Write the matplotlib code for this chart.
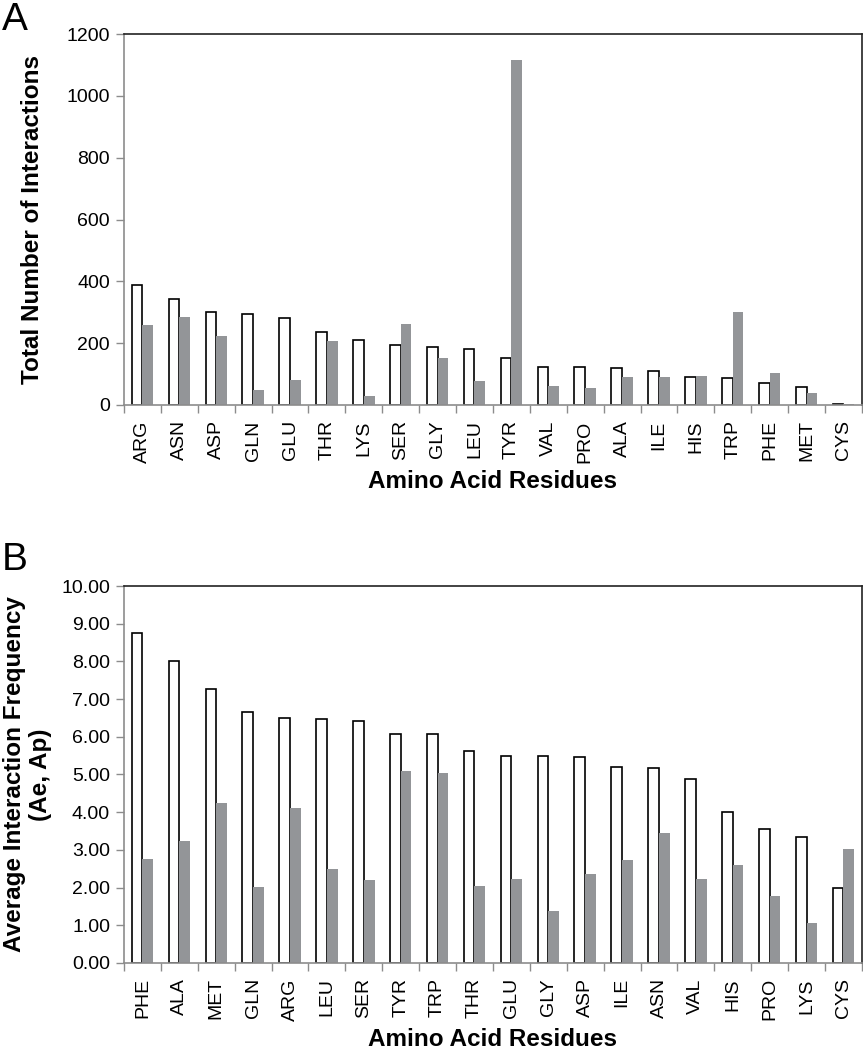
import matplotlib
matplotlib.use('Agg')
import matplotlib.pyplot as plt
import numpy as np

plt.rcParams['font.family'] = ['Liberation Sans', 'DejaVu Sans']

# Panel A: total number of interactions
res_a = ['ARG', 'ASN', 'ASP', 'GLN', 'GLU', 'THR', 'LYS', 'SER', 'GLY', 'LEU',
         'TYR', 'VAL', 'PRO', 'ALA', 'ILE', 'HIS', 'TRP', 'PHE', 'MET', 'CYS']
total_white = [389, 342, 301, 294, 281, 237, 209, 193, 186, 182,
               153, 123, 122, 121, 110, 89, 86, 71, 59, 3]
total_gray = [259, 284, 224, 50, 82, 208, 28, 262, 151, 77,
              1115, 61, 54, 89, 89, 95, 300, 102, 40, 4]

# Panel B: average interaction frequency (Ae, Ap)
res_b = ['PHE', 'ALA', 'MET', 'GLN', 'ARG', 'LEU', 'SER', 'TYR', 'TRP', 'THR',
         'GLU', 'GLY', 'ASP', 'ILE', 'ASN', 'VAL', 'HIS', 'PRO', 'LYS', 'CYS']
avg_white = [8.76, 8.01, 7.26, 6.65, 6.50, 6.47, 6.42, 6.08, 6.08, 5.63,
             5.50, 5.48, 5.46, 5.20, 5.17, 4.89, 4.00, 3.56, 3.35, 2.00]
avg_gray = [2.75, 3.24, 4.25, 2.01, 4.10, 2.48, 2.20, 5.10, 5.05, 2.05,
            2.23, 1.39, 2.37, 2.74, 3.46, 2.23, 2.59, 1.77, 1.05, 3.01]

GRAY = '#939598'
AXGRAY = '#8c8c8c'

fig = plt.figure(figsize=(8.63, 10.5), dpi=100)


def draw_panel(ax, labels, white, gray, ymax, ystep, fmt, ylabel):
    x = np.arange(len(labels))
    w = 0.29
    ax.bar(x - w / 2, white, w, color='white', edgecolor='black', linewidth=1.2)
    ax.bar(x + w / 2, gray, w, color=GRAY, edgecolor='none')
    ax.set_xlim(-0.5, len(labels) - 0.5)
    ax.set_ylim(0, ymax)
    yt = np.arange(0, ymax + ystep / 2, ystep)
    ax.set_yticks(yt)
    ax.set_yticklabels([fmt.format(v) for v in yt])
    ax.set_xticks(x)
    ax.set_xticklabels(labels, rotation=90, fontsize=14)
    ax.set_xticks(np.arange(-0.5, len(labels)), minor=True)
    ax.tick_params(axis='x', which='major', length=0, pad=11)
    ax.tick_params(axis='x', which='minor', length=6, color=AXGRAY, width=1)
    ax.tick_params(axis='y', length=6, color=AXGRAY, width=1, labelsize=14, pad=4)
    for s in ['left', 'bottom']:
        ax.spines[s].set_color(AXGRAY)
        ax.spines[s].set_linewidth(1.2)
    for s in ['top', 'right']:
        ax.spines[s].set_color('#222222')
        ax.spines[s].set_linewidth(1.2)
    ax.set_xlabel('Amino Acid Residues', fontsize=17.5, fontweight='bold',
                  labelpad=5)
    ax.set_ylabel(ylabel, fontsize=17.5, fontweight='bold', linespacing=1.15)


ax1 = fig.add_axes([0.1437, 0.6143, 0.855, 0.3533])
draw_panel(ax1, res_a, total_white, total_gray, 1200, 200, '{:.0f}',
           'Total Number of Interactions')
ax1.yaxis.set_label_coords(-0.108, 0.5)

ax2 = fig.add_axes([0.1437, 0.0829, 0.855, 0.359])
draw_panel(ax2, res_b, avg_white, avg_gray, 10, 1, '{:.2f}',
           'Average Interaction Frequency\n(Ae, Ap)')
ax2.yaxis.set_label_coords(-0.098, 0.5)

fig.text(0.002, 1 - 30 / 1050, 'A', fontsize=28, va='baseline', ha='left')
fig.text(0.002, 1 - 570 / 1050, 'B', fontsize=28, va='baseline', ha='left')

plt.savefig('out.png', dpi=100)
